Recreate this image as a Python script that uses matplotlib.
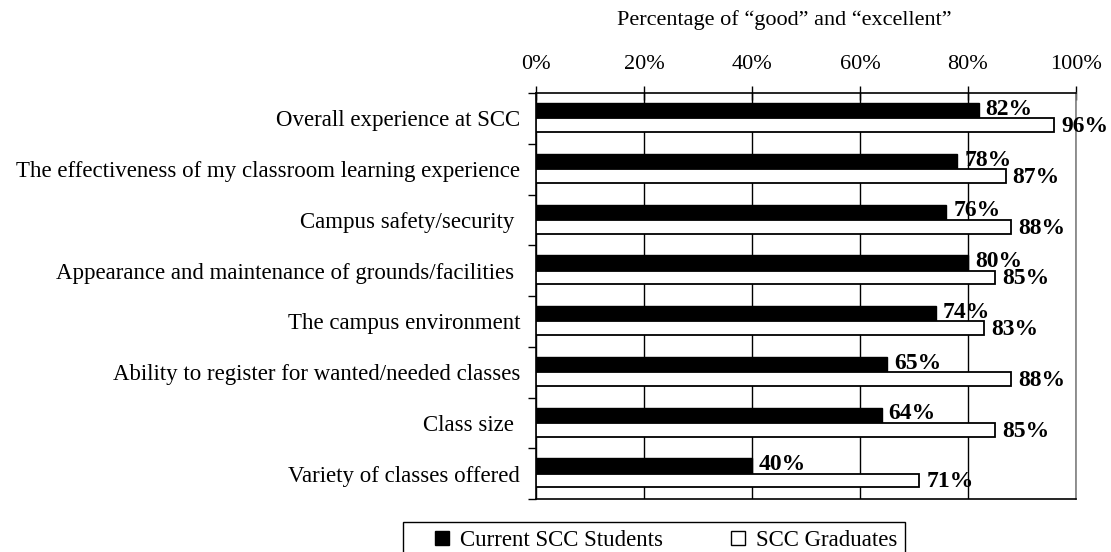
import numpy as np
import matplotlib
matplotlib.use('Agg')
import matplotlib.pyplot as plt
from matplotlib.lines import Line2D
from matplotlib.patches import Rectangle

# 数据
categories = [
    "Overall experience at SCC",
    "The effectiveness of my classroom learning experience",
    "Campus safety/security ",
    "Appearance and maintenance of grounds/facilities ",
    "The campus environment",
    "Ability to register for wanted/needed classes",
    "Class size ",
    "Variety of classes offered",
]
current_students = [82, 78, 76, 80, 74, 65, 64, 40]
graduates = [96, 87, 88, 85, 83, 88, 85, 71]
series_names = ["Current SCC Students", "SCC Graduates"]
x_ticks = [0, 20, 40, 60, 80, 100]

plt.rcParams['font.family'] = ['Liberation Serif', 'DejaVu Serif']

W, H = 1111, 552
fig = plt.figure(figsize=(W / 100, H / 100), dpi=100)
ax = fig.add_axes([536 / W, 1 - 499 / H, 540 / W, 406 / H])

n = len(categories)
y = np.arange(n)[::-1]

ax.barh(y + 0.15, current_students, height=0.30, color='black', edgecolor='black', linewidth=1, zorder=3)
ax.barh(y - 0.135, graduates, height=0.27, color='white', edgecolor='black', linewidth=1.3, zorder=3)

for yi, v in zip(y, current_students):
    ax.annotate(f"{v}%", (v, yi + 0.15), xytext=(5, 1), textcoords='offset points',
                va='center', ha='left', fontsize=17, fontweight='bold', zorder=4)
for yi, v in zip(y, graduates):
    ax.annotate(f"{v}%", (v, yi - 0.135), xytext=(5, -1), textcoords='offset points',
                va='center', ha='left', fontsize=17, fontweight='bold', zorder=4)

ax.set_xlim(0, 100)
ax.set_ylim(-0.5, n - 0.5)

# x 轴在上方
ax.xaxis.tick_top()
ax.set_xticks(x_ticks)
ax.set_xticklabels([f"{t}%" for t in x_ticks], fontsize=16)
ax.tick_params(axis='x', direction='inout', length=10, width=1, pad=9)
ax.grid(axis='x', color='black', linewidth=1, zorder=1)

# y 轴: 类别边界处画刻度, 标签放在中间
ax.set_yticks(np.arange(-0.5, n, 1.0))
ax.set_yticklabels([])
ax.set_yticks(y, minor=True)
ax.set_yticklabels(categories, minor=True, fontsize=16.5)
ax.tick_params(axis='y', which='major', direction='out', length=6, width=1)
ax.tick_params(axis='y', which='minor', length=0, pad=11.5)

for s in ['top', 'bottom', 'left']:
    ax.spines[s].set_color('black')
    ax.spines[s].set_linewidth(1.2)
ax.spines['right'].set_color('#808080')
ax.spines['right'].set_linewidth(1.2)

ax.text((617 - 536) / 540, 1 + (93 - 20) / 406, "Percentage of \u201cgood\u201d and \u201cexcellent\u201d",
        transform=ax.transAxes, ha='left', va='center', fontsize=16)

# 图例 (外框单独画, 底部被裁掉)
handles = [
    Line2D([], [], marker='s', linestyle='none', markersize=9.5,
           markerfacecolor='black', markeredgecolor='black'),
    Line2D([], [], marker='s', linestyle='none', markersize=9.5,
           markerfacecolor='white', markeredgecolor='black'),
]
fig.legend(handles, series_names, loc='center left', ncol=2,
           bbox_to_anchor=(434 / W, 1 - 540 / H), frameon=False,
           fontsize=16.5, handlelength=0.7, handletextpad=0.45,
           columnspacing=2.9, borderpad=0, borderaxespad=0)
fig.add_artist(Rectangle((403 / W, -0.1), 502 / W, 0.1 + 1 - 522 / H,
                         transform=fig.transFigure, fill=False,
                         edgecolor='black', linewidth=1, clip_on=False))

fig.savefig('out.png', dpi=100)
